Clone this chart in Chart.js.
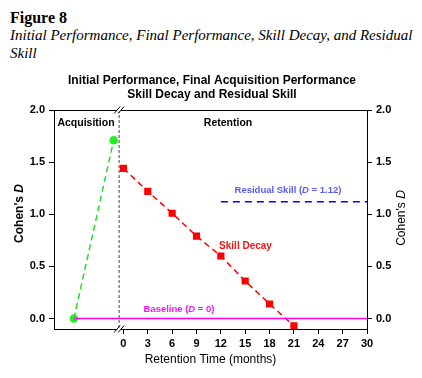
<!DOCTYPE html>
<html>
<head>
<meta charset="utf-8">
<script src="https://cdn.jsdelivr.net/npm/chart.js@4"></script>
<style>
  html, body { margin: 0; padding: 0; background: #fff; }
  body { width: 422px; height: 378px; position: relative; overflow: hidden; }
  #fig { position: absolute; left: 10px; top: 8.7px; font: bold 16px "Liberation Serif", "Times New Roman", serif; color: #000; }
  #caption { position: absolute; left: 10px; top: 27px; width: 412px; font: italic 15px/17.6px "Liberation Serif", "Times New Roman", serif; color: #000; }
  #chartBox { position: absolute; left: 0; top: 0; width: 422px; height: 378px; }
</style>
</head>
<body>
<div id="fig">Figure 8</div>
<div id="caption">Initial Performance, Final Performance, Skill Decay, and Residual<br>Skill</div>
<div id="chartBox"><canvas id="figChart" width="422" height="378"></canvas></div>
<script>
// Acquisition phase (positions on the compressed left segment) and Cohen's D
const acqPos = [-6.1, -1.2];
const acqD = [0, 1.71];
// Retention phase
const months = [0, 3, 6, 9, 12, 15, 18, 21];
const decayD = [1.44, 1.22, 1.01, 0.79, 0.60, 0.36, 0.14, -0.07];
// Reference lines
const residualSpan = [12, 30];
const residualD = [1.12, 1.12];
const baselineSpan = [-6.1, 30];
const baselineD = [0, 0];
// Axis ticks
const xTicks = [0, 3, 6, 9, 12, 15, 18, 21, 24, 27, 30];
const yTicks = [0, 0.5, 1.0, 1.5, 2.0];
const breakPos = -0.53;

const SANS = '"Liberation Sans", Arial, sans-serif';

function richText(ctx, parts, x, y, size, weight, color, align) {
  let total = 0;
  parts.forEach(p => {
    ctx.font = (p[1] ? 'italic ' : '') + weight + ' ' + size + 'px ' + SANS;
    total += ctx.measureText(p[0]).width;
  });
  let cx = align === 'center' ? x - total / 2 : x;
  ctx.fillStyle = color;
  ctx.textAlign = 'left';
  ctx.textBaseline = 'middle';
  parts.forEach(p => {
    ctx.font = (p[1] ? 'italic ' : '') + weight + ' ' + size + 'px ' + SANS;
    ctx.fillText(p[0], cx, y);
    cx += ctx.measureText(p[0]).width;
  });
}

const decorations = {
  id: 'decorations',
  afterDatasetsDraw(chart) {
    const ctx = chart.ctx;
    const a = chart.chartArea;
    const xs = chart.scales.x;
    const bx = xs.getPixelForValue(breakPos);
    ctx.save();

    // top frame line
    ctx.strokeStyle = '#000';
    ctx.lineWidth = 1;
    ctx.beginPath();
    ctx.moveTo(a.left, a.top + 0.5);
    ctx.lineTo(a.right, a.top + 0.5);
    ctx.stroke();

    // dashed separator between acquisition and retention
    ctx.strokeStyle = '#444';
    ctx.setLineDash([3, 2]);
    ctx.beginPath();
    ctx.moveTo(bx, a.top);
    ctx.lineTo(bx, a.bottom);
    ctx.stroke();
    ctx.setLineDash([]);

    // axis break marks
    [a.top, a.bottom].forEach(yy => {
      ctx.fillStyle = '#fff';
      ctx.fillRect(bx - 2, yy - 1.5, 4, 3);
      ctx.strokeStyle = '#000';
      ctx.lineWidth = 1;
      [-2, 2].forEach(off => {
        ctx.beginPath();
        ctx.moveTo(bx + off - 3, yy + 3.5);
        ctx.lineTo(bx + off + 3, yy - 3.5);
        ctx.stroke();
      });
    });

    // title
    ctx.fillStyle = '#000';
    ctx.textAlign = 'center';
    ctx.textBaseline = 'middle';
    ctx.font = 'bold 12px ' + SANS;
    ctx.fillText('Initial Performance, Final Acquisition Performance', 212, 81);
    ctx.fillText('Skill Decay and Residual Skill', 212, 95);

    // phase labels
    ctx.font = 'bold 10.5px ' + SANS;
    ctx.fillText('Acquisition', 86, 123.5);
    ctx.fillText('Retention', 228, 123.5);

    // series labels
    richText(ctx, [['Residual Skill (', false], ['D', true], [' = 1.12)', false]], 288, 190, 9.5, 'bold', '#5a5af5', 'center');
    richText(ctx, [['Skill Decay', false]], 245.5, 246, 10, 'bold', '#ff1010', 'center');
    richText(ctx, [['Baseline (', false], ['D', true], [' = 0)', false]], 179, 309, 9.5, 'bold', '#ff10ff', 'center');

    // axis titles
    ctx.save();
    ctx.translate(20, 213.5);
    ctx.rotate(-Math.PI / 2);
    richText(ctx, [["Cohen's ", false], ['D', true]], 0, 0, 12, 'bold', '#000', 'center');
    ctx.restore();
    ctx.save();
    ctx.translate(401.5, 218);
    ctx.rotate(-Math.PI / 2);
    richText(ctx, [["Cohen's ", false], ['D', true]], 0, 0, 12, 'normal', '#000', 'center');
    ctx.restore();
    richText(ctx, [['Retention Time (months)', false]], 210.5, 359.5, 12, 'normal', '#000', 'center');

    ctx.restore();
  }
};

function yAxis(pos, width) {
  return {
    type: 'linear',
    position: pos,
    min: -0.1,
    max: 2.0,
    afterBuildTicks: axis => { axis.ticks = yTicks.map(v => ({ value: v })); },
    afterFit: axis => { axis.width = width; },
    ticks: {
      color: '#000',
      padding: 4,
      font: { family: SANS, size: 11, weight: 'bold' },
      callback: v => Number(v).toFixed(1)
    },
    grid: { drawOnChartArea: false, color: '#000', tickLength: 5 },
    border: { display: true, color: '#000', width: 1 }
  };
}

new Chart(document.getElementById('figChart'), {
  type: 'line',
  data: {
    datasets: [
      {
        label: 'Baseline',
        data: baselineSpan.map((x, i) => ({ x: x, y: baselineD[i] })),
        borderColor: '#ff00ff',
        borderWidth: 1.5,
        pointRadius: 0
      },
      {
        label: 'Residual Skill',
        data: residualSpan.map((x, i) => ({ x: x, y: residualD[i] })),
        borderColor: '#0000ff',
        borderWidth: 1.5,
        borderDash: [7, 5],
        pointRadius: 0
      },
      {
        label: 'Acquisition',
        data: acqPos.map((x, i) => ({ x: x, y: acqD[i] })),
        borderColor: '#22dd22',
        borderWidth: 1.5,
        borderDash: [6, 4],
        pointStyle: 'circle',
        pointRadius: 3.5,
        pointBackgroundColor: '#22ee22',
        pointBorderColor: '#22ee22'
      },
      {
        label: 'Skill Decay',
        data: months.map((m, i) => ({ x: m, y: decayD[i] })),
        borderColor: '#ff0000',
        borderWidth: 1.5,
        borderDash: [6, 4],
        pointStyle: 'rect',
        pointRadius: 4,
        pointBackgroundColor: '#ff0000',
        pointBorderColor: '#ff0000'
      }
    ]
  },
  plugins: [decorations],
  options: {
    responsive: false,
    animation: false,
    layout: { padding: { top: 110, left: 0, right: 0, bottom: 0 } },
    plugins: { legend: { display: false }, tooltip: { enabled: false }, title: { display: false } },
    elements: { line: { tension: 0 } },
    scales: {
      x: {
        type: 'linear',
        position: 'bottom',
        min: -8.55,
        max: 30,
        afterBuildTicks: axis => { axis.ticks = xTicks.map(v => ({ value: v })); },
        afterFit: axis => { axis.height = 49; },
        ticks: {
          color: '#000',
          padding: 3,
          maxRotation: 0,
          autoSkip: false,
          font: { family: SANS, size: 11, weight: 'bold' }
        },
        grid: { drawOnChartArea: false, color: '#000', tickLength: 5 },
        border: { display: true, color: '#000', width: 1 }
      },
      y: yAxis('left', 54),
      y2: yAxis('right', 55)
    }
  }
});
</script>
</body>
</html>
